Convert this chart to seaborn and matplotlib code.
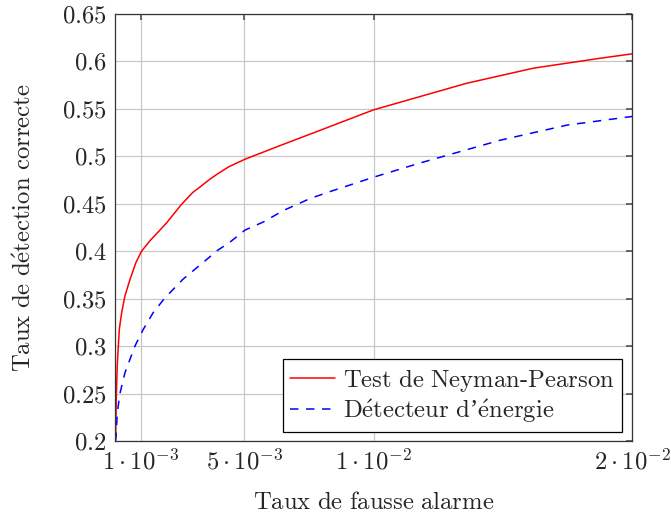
import pandas as pd
import seaborn as sns
import matplotlib.pyplot as plt

# Neyman-Pearson test curve (false alarm rate vs correct detection rate)
np_pfa = [0.00001, 0.000026, 0.00005, 0.00009, 0.000167, 0.000256, 0.000385, 0.000577,
          0.000808, 0.001026, 0.00135, 0.00173, 0.0020, 0.00256, 0.00301, 0.0033,
          0.00365, 0.00394, 0.0044, 0.00503, 0.00588, 0.0064, 0.0077, 0.0100,
          0.0118, 0.0136, 0.0162, 0.0188, 0.0200]
np_pd = [0.200, 0.205, 0.247, 0.282, 0.318, 0.335, 0.353, 0.370,
         0.388, 0.400, 0.411, 0.422, 0.430, 0.449, 0.462, 0.468,
         0.4755, 0.481, 0.489, 0.497, 0.506, 0.5115, 0.525, 0.549,
         0.563, 0.577, 0.593, 0.6035, 0.608]

# Energy detector curve
en_pfa = [0.00002, 0.00004, 0.00009, 0.00019, 0.000385, 0.00077, 0.00109, 0.00147,
          0.00192, 0.00263, 0.0034, 0.00397, 0.00442, 0.00503, 0.00575, 0.00652,
          0.00756, 0.00833, 0.0100, 0.0118, 0.0149, 0.0175, 0.0200]
en_pd = [0.200, 0.205, 0.230, 0.250, 0.272, 0.300, 0.3175, 0.335,
         0.3505, 0.3705, 0.388, 0.401, 0.409, 0.4223, 0.431, 0.443,
         0.4557, 0.463, 0.478, 0.493, 0.517, 0.533, 0.542]

labels = [r"$\mathrm{Test\ de\ Neyman\text{-}Pearson}$",
          r"$\mathrm{D\acute{e}tecteur\ d}$’$\mathrm{\acute{e}nergie}$"]
xticks = [0.001, 0.005, 0.01, 0.02]
xtick_labels = [r"$1\cdot10^{-3}$", r"$5\cdot10^{-3}$", r"$1\cdot10^{-2}$", r"$2\cdot10^{-2}$"]
yticks = [0.2, 0.25, 0.3, 0.35, 0.4, 0.45, 0.5, 0.55, 0.6, 0.65]
ytick_labels = ["0.2", "0.25", "0.3", "0.35", "0.4", "0.45", "0.5", "0.55", "0.6", "0.65"]

df_np = pd.DataFrame({"pfa": np_pfa, "pd": np_pd})
df_en = pd.DataFrame({"pfa": en_pfa, "pd": en_pd})

sns.set_theme(style="whitegrid")
plt.rcParams["font.family"] = ["Liberation Serif", "DejaVu Serif"]
plt.rcParams["mathtext.fontset"] = "cm"
FS = 17.8

fig = plt.figure(figsize=(6.71, 5.15), dpi=100)
ax = fig.add_axes([0.1714, 0.1437, 0.7706, 0.8291])
ax.set_facecolor("white")

sns.lineplot(data=df_np, x="pfa", y="pd", ax=ax, color="red", lw=1.1,
             sort=False, estimator=None, label=labels[0])
sns.lineplot(data=df_en, x="pfa", y="pd", ax=ax, color="blue", lw=1.1,
             sort=False, estimator=None, label=labels[1])
ax.lines[1].set_dashes((5.5, 5))

ax.set_xlim(0, 0.02)
ax.set_ylim(0.2, 0.65)
ax.set_xticks(xticks)
ax.set_xticklabels(xtick_labels, fontsize=FS)
ax.set_yticks(yticks)
ax.set_yticklabels([f"${t}$" for t in ytick_labels], fontsize=FS)
ax.grid(True, color="#c8c8c8", lw=0.9)
ax.tick_params(axis="both", direction="in", length=4, color="#555555",
               top=True, right=True, pad=6)
for s in ax.spines.values():
    s.set_color("#333333")
    s.set_linewidth(0.9)

ax.set_xlabel(r"$\mathrm{Taux\ de\ fausse\ alarme}$", fontsize=FS, labelpad=12)
ax.set_ylabel(r"$\mathrm{Taux\ de\ d\acute{e}tection\ correcte}$", fontsize=FS, labelpad=19)

leg = ax.legend(loc="lower right", bbox_to_anchor=(0.981, 0.02), fontsize=FS,
                frameon=True, fancybox=False, borderpad=0.3, borderaxespad=0,
                handlelength=1.82, labelspacing=0.15, handletextpad=0.32)
leg.get_frame().set_edgecolor("black")
leg.get_frame().set_linewidth(0.9)
leg.get_frame().set_alpha(1)

fig.savefig("out.png", dpi=100)
